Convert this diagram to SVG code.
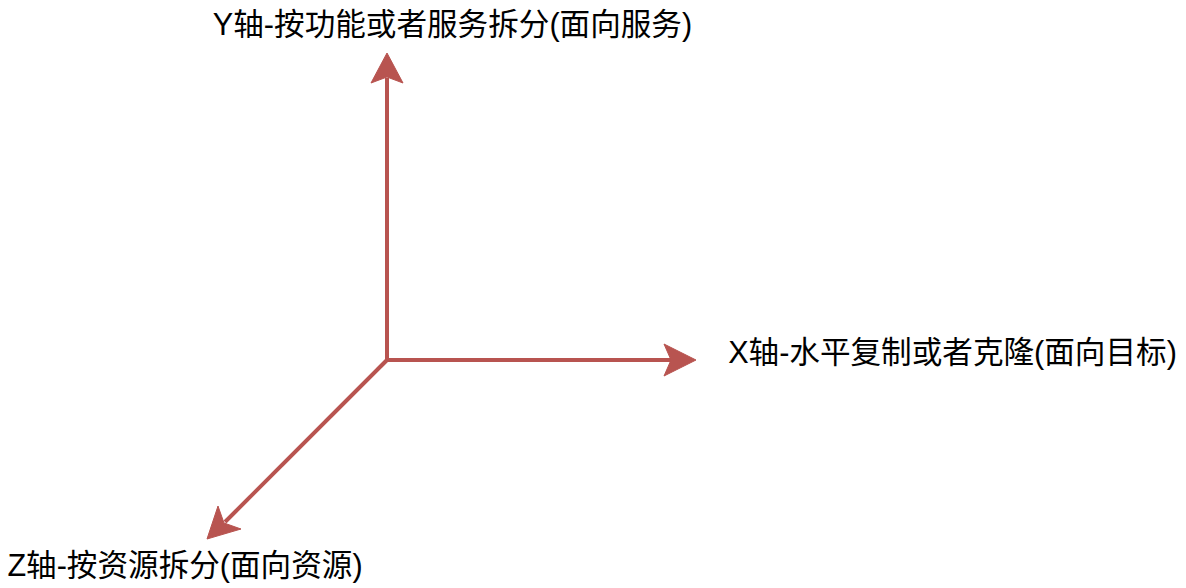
<svg xmlns="http://www.w3.org/2000/svg" width="1186" height="588" viewBox="0 0 1186 588">
  <style>
    .axis { fill: none; stroke: #b85450; stroke-width: 4; }
    .head { fill: #b85450; stroke: #b85450; stroke-width: 1; stroke-linejoin: miter; }
    .label { font-family: "Liberation Sans", Arial, "Noto Sans CJK SC", sans-serif; font-size: 30.6px; fill: #000000; text-anchor: middle; }
  </style>
  <rect width="1186" height="588" fill="#ffffff"/>
  <g id="connectors">
    <line class="axis" x1="387" y1="360" x2="387" y2="78"/>
    <polygon class="head" points="387,53 403,83 387,77 371,83"/>
    <line class="axis" x1="385" y1="360" x2="672" y2="360"/>
    <polygon class="head" points="696,360 664,376 671,360 664,344"/>
    <line class="axis" x1="387" y1="360" x2="225" y2="522"/>
    <polygon class="head" points="207,539 218,506 224,523 241,529"/>
  </g>
  <g id="y-axis-label">
    <text class="label" x="452.5" y="35">Y轴-按功能或者服务拆分(面向服务)</text>
  </g>
  <g id="x-axis-label">
    <text class="label" x="952.5" y="363">X轴-水平复制或者克隆(面向目标)</text>
  </g>
  <g id="z-axis-label">
    <text class="label" x="185" y="576">Z轴-按资源拆分(面向资源)</text>
  </g>
</svg>
